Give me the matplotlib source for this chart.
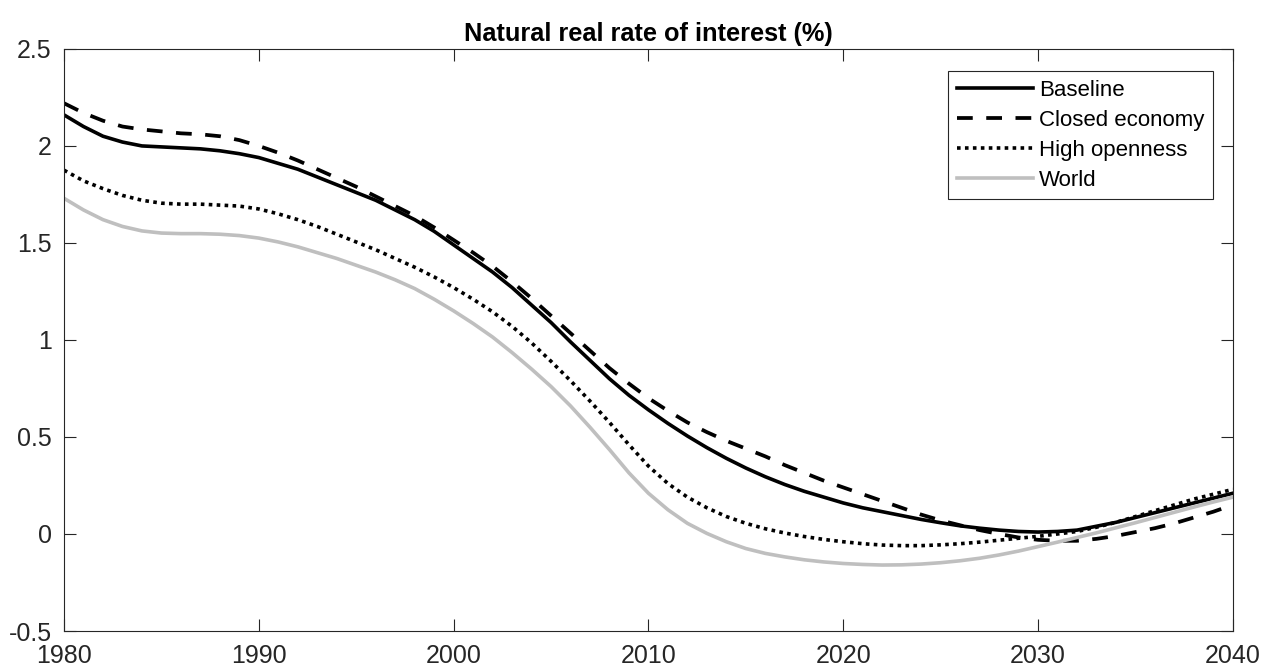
import matplotlib.pyplot as plt

plt.rcParams['font.family'] = ['Liberation Sans', 'DejaVu Sans']

# yearly readings 1980-2040
years = list(range(1980, 2041))

baseline = [2.16, 2.10, 2.05, 2.02, 2.00, 1.995, 1.99, 1.985, 1.975, 1.96,
            1.94, 1.91, 1.88, 1.84, 1.80, 1.76, 1.72, 1.67, 1.62, 1.56,
            1.49, 1.42, 1.35, 1.27, 1.18, 1.09, 0.99, 0.895, 0.80, 0.715,
            0.64, 0.57, 0.505, 0.445, 0.39, 0.34, 0.295, 0.255, 0.22, 0.19,
            0.16, 0.135, 0.115, 0.095, 0.075, 0.058, 0.042, 0.03, 0.02, 0.013,
            0.01, 0.013, 0.02, 0.04, 0.06, 0.085, 0.11, 0.135, 0.16, 0.185,
            0.21]

closed = [2.22, 2.17, 2.13, 2.10, 2.085, 2.075, 2.065, 2.06, 2.05, 2.03,
          2.00, 1.965, 1.925, 1.88, 1.835, 1.79, 1.74, 1.69, 1.64, 1.58,
          1.515, 1.45, 1.38, 1.30, 1.215, 1.125, 1.035, 0.945, 0.855, 0.775,
          0.70, 0.635, 0.575, 0.525, 0.48, 0.44, 0.40, 0.355, 0.315, 0.275,
          0.24, 0.205, 0.17, 0.135, 0.10, 0.07, 0.045, 0.02, 0.0, -0.018,
          -0.03, -0.035, -0.035, -0.025, -0.01, 0.01, 0.03, 0.055, 0.085, 0.115,
          0.15]

high_open = [1.875, 1.82, 1.78, 1.745, 1.72, 1.705, 1.70, 1.70, 1.695, 1.69,
             1.675, 1.65, 1.62, 1.585, 1.545, 1.505, 1.465, 1.42, 1.375, 1.325,
             1.27, 1.21, 1.145, 1.07, 0.985, 0.89, 0.79, 0.685, 0.575, 0.46,
             0.35, 0.26, 0.19, 0.135, 0.09, 0.055, 0.027, 0.005, -0.013, -0.028,
             -0.04, -0.05, -0.057, -0.06, -0.06, -0.056, -0.05, -0.042, -0.032, -0.022,
             -0.012, 0.0, 0.013, 0.035, 0.06, 0.09, 0.12, 0.15, 0.18, 0.205,
             0.23]

world = [1.73, 1.67, 1.62, 1.585, 1.562, 1.551, 1.548, 1.548, 1.545, 1.538,
         1.525, 1.505, 1.48, 1.45, 1.42, 1.385, 1.35, 1.31, 1.265, 1.21,
         1.15, 1.085, 1.015, 0.935, 0.85, 0.76, 0.66, 0.55, 0.435, 0.315,
         0.21, 0.125, 0.055, 0.003, -0.04, -0.075, -0.1, -0.118, -0.133, -0.144,
         -0.152, -0.157, -0.16, -0.159, -0.155, -0.148, -0.138, -0.125, -0.108, -0.088,
         -0.065, -0.042, -0.018, 0.006, 0.032, 0.058, 0.085, 0.112, 0.139, 0.165,
         0.19]

fig = plt.figure(figsize=(12.65, 6.71), dpi=100)
ax = fig.add_axes([0.0506, 0.0596, 0.924, 0.8675])

ax.plot(years, baseline, color='black', lw=2.6, label='Baseline')
ax.plot(years, closed, color='black', lw=2.7, ls=(0, (4.2, 3.6)), label='Closed economy')
ax.plot(years, high_open, color='black', lw=2.6, ls=(0, (1, 1.2)), label='High openness')
ax.plot(years, world, color='#bfbfbf', lw=2.6, label='World')

ax.set_xlim(1980, 2040)
ax.set_ylim(-0.5, 2.5)
ax.set_xticks(range(1980, 2041, 10))
ax.set_yticks([-0.5, 0, 0.5, 1, 1.5, 2, 2.5])
ax.set_yticklabels(['-0.5', '0', '0.5', '1', '1.5', '2', '2.5'])

ax.tick_params(direction='in', top=True, right=True, length=8.5, width=0.8,
               color='#262626', labelsize=18, labelcolor='#262626')
ax.tick_params(axis='x', pad=9)
ax.tick_params(axis='y', pad=9)
for s in ax.spines.values():
    s.set_color('#262626')
    s.set_linewidth(0.8)

ax.set_title('Natural real rate of interest (%)', fontsize=18.3, fontweight='bold', pad=6)

leg = ax.legend(loc='upper right', bbox_to_anchor=(0.983, 0.962), borderaxespad=0,
                fontsize=16, handlelength=3.4, handletextpad=0.27, borderpad=0.4,
                labelspacing=0.4, fancybox=False, framealpha=1)
leg.get_frame().set_edgecolor('#262626')
leg.get_frame().set_linewidth(0.8)

fig.savefig('out.png', dpi=100)
